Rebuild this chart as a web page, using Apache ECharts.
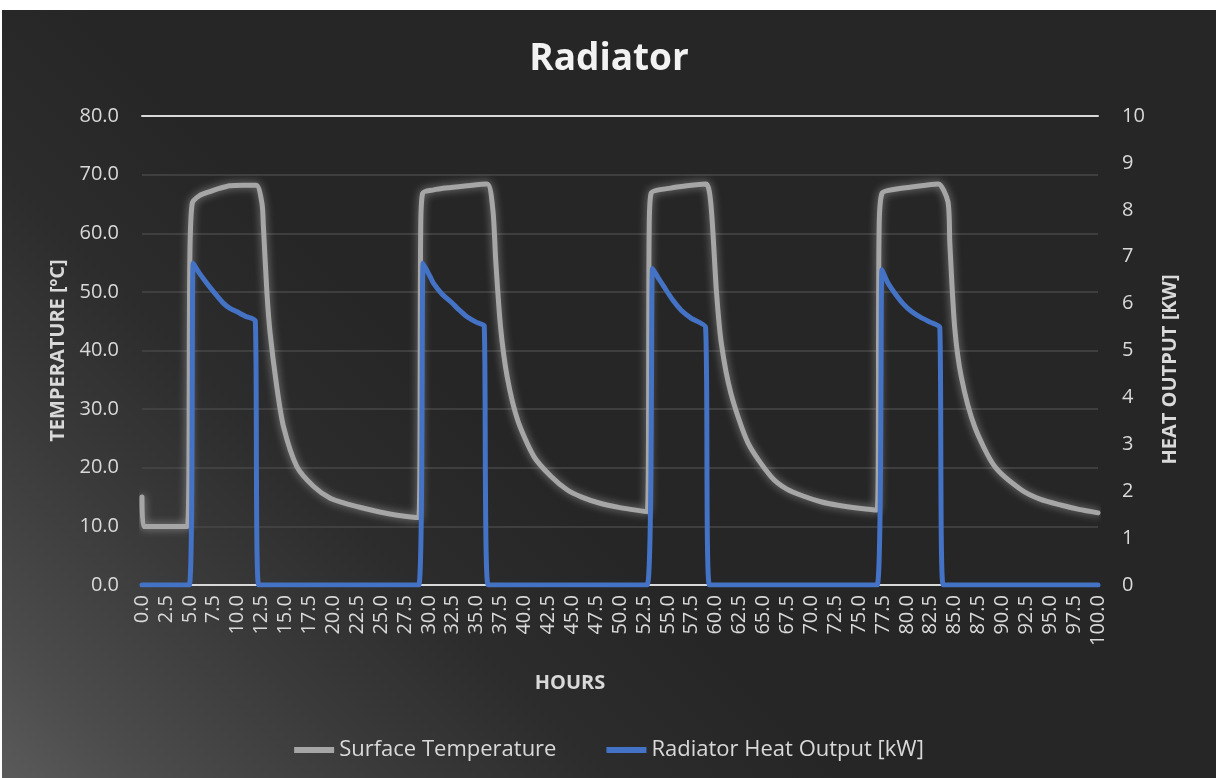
<!DOCTYPE html>
<html>
<head>
<meta charset="utf-8">
<script src="https://cdn.jsdelivr.net/npm/echarts@6/dist/echarts.min.js"></script>
<style>
html,body{margin:0;padding:0;background:#ffffff;width:1216px;height:778px;overflow:hidden;}
#chart{position:absolute;left:2px;top:10px;width:1214px;height:768px;}
</style>
</head>
<body>
<div id="chart"></div>
<script>
// ---- data ----
const tempHours = [0,0.15,4.75,5.0,5.25,6.0,7.1,8.0,9.2,10.5,11.95,12.55,12.7,13.07,13.4,14.1,14.8,16.2,17.96,19.7,21.5,23.2,25.0,26.7,28.95,
  29.15,29.35,30.5,32.3,34.0,36.1,36.7,37.0,37.5,38.2,39.3,41.0,42.8,44.5,46.0,48.0,50.0,52.85,
  53.05,53.25,55.3,57.0,59.0,59.5,60.1,60.6,61.6,63.4,65.8,67.5,69.3,71.0,72.8,75.0,76.9,
  77.1,77.4,78.75,80.5,82.0,83.3,84.3,84.5,85.0,85.7,87.1,89.2,92.0,94.0,96.2,98.0,100];
const tempValues = [15.0,10.0,10.0,55.0,65.1,66.4,67.1,67.6,68.1,68.2,68.2,65.1,61.1,49.8,43.0,33.8,27.0,20.2,16.8,14.8,13.8,13.1,12.4,11.9,11.5,
  60.0,66.8,67.4,67.8,68.1,68.4,64.0,55.4,44.1,35.5,28.1,21.9,18.5,16.2,15.0,13.9,13.2,12.5,
  60.0,66.8,67.7,68.1,68.4,65.1,49.8,41.2,32.7,24.2,18.5,16.3,15.1,14.2,13.6,13.1,12.8,
  60.0,66.8,67.5,67.9,68.2,68.4,65.4,58.3,44.1,35.5,27.0,20.2,16.2,14.6,13.6,12.9,12.3];

const heatHours = [0,4.95,5.35,6.0,6.8,7.5,8.5,9.2,9.9,10.8,11.85,12.2,
  28.95,29.4,30.0,30.5,31.4,32.3,33.2,34.0,35.0,35.8,36.2,
  52.85,53.4,54.0,54.6,55.5,56.4,57.5,58.95,59.35,
  76.9,77.4,78.0,78.75,79.6,80.5,81.5,82.5,83.45,83.8,100];
const heatValues = [0,0,6.86,6.65,6.43,6.25,6.01,5.9,5.83,5.73,5.64,0,
  0,6.86,6.63,6.43,6.2,6.04,5.86,5.72,5.6,5.53,0,
  0,6.75,6.55,6.36,6.08,5.86,5.68,5.5,0,
  0,6.72,6.45,6.22,6.0,5.83,5.7,5.6,5.5,0,0];

const tempTicks = [0,10,20,30,40,50,60,70,80];
const heatTicks = [0,1,2,3,4,5,6,7,8,9,10];

const titleText = 'Radiator';
const xName = 'HOURS';
const yLeftName = 'TEMPERATURE [ºC]';
const yRightName = 'HEAT OUTPUT [KW]';
const seriesNames = ['Surface Temperature', 'Radiator Heat Output [kW]'];

const tempData = tempHours.map((h, i) => [h, tempValues[i]]);
const heatData = heatHours.map((h, i) => [h, heatValues[i]]);

const FONT = '"Open Sans", "Liberation Sans", sans-serif';
const chart = echarts.init(document.getElementById('chart'), null, {renderer: 'canvas'});

chart.setOption({
  animation: false,
  backgroundColor: {
    type: 'linear', global: true, x: 0, y: 768, x2: 768, y2: 0,
    colorStops: [
      {offset: 0, color: '#5a5a5a'},
      {offset: 0.1, color: '#4b4b4b'},
      {offset: 0.25, color: '#3a3a3a'},
      {offset: 0.4, color: '#2c2c2c'},
      {offset: 0.55, color: '#262626'},
      {offset: 1, color: '#262626'}
    ]
  },
  title: {
    text: titleText, left: 'center', top: 26,
    textStyle: {color: '#f2f2f2', fontFamily: FONT, fontWeight: 'bold', fontSize: 37}
  },
  legend: {
    bottom: 12, left: 'center', itemGap: 50, itemWidth: 40, itemHeight: 6, icon: 'rect',
    textStyle: {color: '#d9d9d9', fontFamily: FONT, fontSize: 22},
    data: seriesNames
  },
  grid: {left: 140, right: 118, top: 106, bottom: 193, containLabel: false},
  xAxis: [{
    type: 'value', min: 0, max: 100, interval: 2.5,
    name: xName, nameLocation: 'middle', nameGap: 88,
    nameTextStyle: {color: '#d9d9d9', fontFamily: FONT, fontWeight: 'bold', fontSize: 20, padding: [0, 100, 0, 0]},
    axisLine: {show: true, lineStyle: {color: '#d9d9d9', width: 2}},
    axisTick: {show: false},
    splitLine: {show: false},
    axisLabel: {
      rotate: 90, margin: 10, color: '#d9d9d9', fontFamily: FONT, fontSize: 20,
      formatter: v => v.toFixed(1)
    }
  }, {
    type: 'value', min: 0, max: 100, position: 'top',
    axisLine: {show: true, onZero: false, lineStyle: {color: '#d9d9d9', width: 2}},
    axisTick: {show: false}, axisLabel: {show: false}, splitLine: {show: false}
  }],
  yAxis: [{
    type: 'value', min: tempTicks[0], max: tempTicks[tempTicks.length - 1], interval: 10,
    name: yLeftName, nameLocation: 'middle', nameGap: 74, nameRotate: 90,
    nameTextStyle: {color: '#d9d9d9', fontFamily: FONT, fontWeight: 'bold', fontSize: 20},
    axisLine: {show: false}, axisTick: {show: false},
    splitLine: {show: true, lineStyle: {color: '#474747', width: 1.5}},
    axisLabel: {color: '#d9d9d9', fontFamily: FONT, fontSize: 20, margin: 23, formatter: v => v.toFixed(1)}
  }, {
    type: 'value', min: heatTicks[0], max: heatTicks[heatTicks.length - 1], interval: 1,
    name: yRightName, nameLocation: 'middle', nameGap: 62, nameRotate: 90,
    nameTextStyle: {color: '#d9d9d9', fontFamily: FONT, fontWeight: 'bold', fontSize: 20, padding: [0, 38, 0, 0]},
    axisLine: {show: false}, axisTick: {show: false},
    splitLine: {show: false},
    axisLabel: {color: '#d9d9d9', fontFamily: FONT, fontSize: 20, margin: 24}
  }],
  series: [{
    name: seriesNames[0], type: 'line', xAxisIndex: 0, yAxisIndex: 0,
    data: tempData, showSymbol: false, symbol: 'none',
    smooth: 0.25,
    color: '#a6a6a6',
    lineStyle: {color: '#a6a6a6', width: 5, join: 'round', cap: 'round',
      shadowColor: 'rgba(255,255,255,0.45)', shadowBlur: 9},
    z: 2
  }, {
    name: seriesNames[1], type: 'line', xAxisIndex: 0, yAxisIndex: 1,
    data: heatData, showSymbol: false, symbol: 'none',
    smooth: 0.15,
    color: '#4472c4',
    lineStyle: {color: '#4472c4', width: 5, join: 'round', cap: 'round'},
    z: 3
  }]
});
</script>
</body>
</html>
